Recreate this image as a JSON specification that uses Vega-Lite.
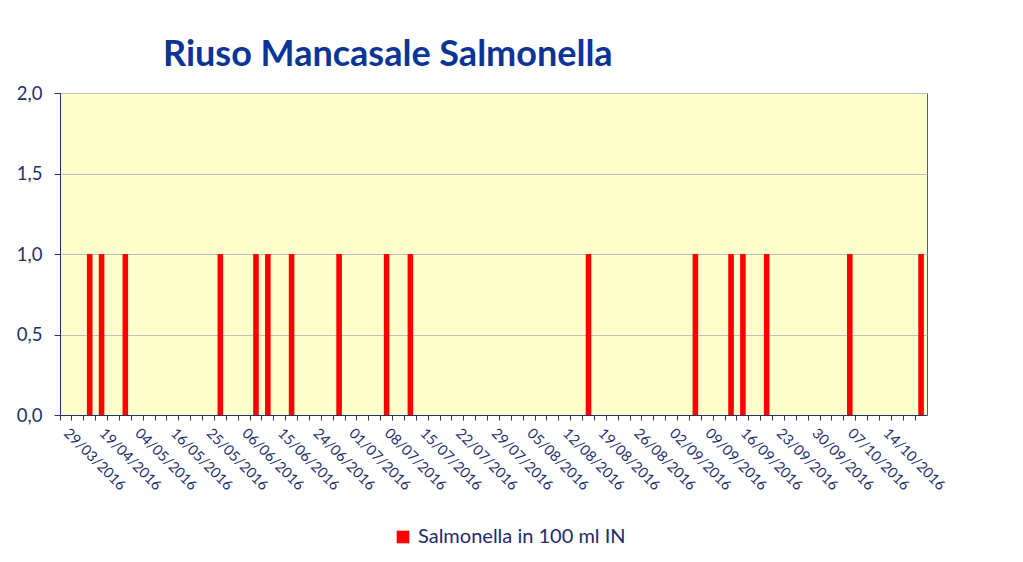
{
  "$schema": "https://vega.github.io/schema/vega-lite/v6.json",
  "width": 867,
  "height": 322,
  "autosize": {"type": "none"},
  "padding": {"left": 60, "top": 93, "right": 96, "bottom": 147},
  "background": "white",
  "title": {
    "text": "Riuso Mancasale Salmonella",
    "anchor": "start",
    "frame": "group",
    "dx": 103,
    "offset": 10,
    "font": "Lato",
    "fontSize": 36,
    "fontWeight": "bold",
    "color": "#0B3497"
  },
  "data": {
    "values": [
      {"data": "29/03/2016", "valore": 0},
      {"data": "05/04/2016", "valore": 0},
      {"data": "12/04/2016", "valore": 1},
      {"data": "19/04/2016", "valore": 1},
      {"data": "26/04/2016", "valore": 0},
      {"data": "28/04/2016", "valore": 1},
      {"data": "04/05/2016", "valore": 0},
      {"data": "09/05/2016", "valore": 0},
      {"data": "12/05/2016", "valore": 0},
      {"data": "16/05/2016", "valore": 0},
      {"data": "19/05/2016", "valore": 0},
      {"data": "23/05/2016", "valore": 0},
      {"data": "25/05/2016", "valore": 0},
      {"data": "27/05/2016", "valore": 1},
      {"data": "31/05/2016", "valore": 0},
      {"data": "06/06/2016", "valore": 0},
      {"data": "08/06/2016", "valore": 1},
      {"data": "13/06/2016", "valore": 1},
      {"data": "15/06/2016", "valore": 0},
      {"data": "20/06/2016", "valore": 1},
      {"data": "22/06/2016", "valore": 0},
      {"data": "24/06/2016", "valore": 0},
      {"data": "27/06/2016", "valore": 0},
      {"data": "29/06/2016", "valore": 1},
      {"data": "01/07/2016", "valore": 0},
      {"data": "04/07/2016", "valore": 0},
      {"data": "06/07/2016", "valore": 0},
      {"data": "08/07/2016", "valore": 1},
      {"data": "11/07/2016", "valore": 0},
      {"data": "13/07/2016", "valore": 1},
      {"data": "15/07/2016", "valore": 0},
      {"data": "18/07/2016", "valore": 0},
      {"data": "20/07/2016", "valore": 0},
      {"data": "22/07/2016", "valore": 0},
      {"data": "25/07/2016", "valore": 0},
      {"data": "27/07/2016", "valore": 0},
      {"data": "29/07/2016", "valore": 0},
      {"data": "01/08/2016", "valore": 0},
      {"data": "03/08/2016", "valore": 0},
      {"data": "05/08/2016", "valore": 0},
      {"data": "08/08/2016", "valore": 0},
      {"data": "10/08/2016", "valore": 0},
      {"data": "12/08/2016", "valore": 0},
      {"data": "16/08/2016", "valore": 0},
      {"data": "17/08/2016", "valore": 1},
      {"data": "19/08/2016", "valore": 0},
      {"data": "22/08/2016", "valore": 0},
      {"data": "24/08/2016", "valore": 0},
      {"data": "26/08/2016", "valore": 0},
      {"data": "29/08/2016", "valore": 0},
      {"data": "31/08/2016", "valore": 0},
      {"data": "02/09/2016", "valore": 0},
      {"data": "05/09/2016", "valore": 0},
      {"data": "07/09/2016", "valore": 1},
      {"data": "09/09/2016", "valore": 0},
      {"data": "12/09/2016", "valore": 0},
      {"data": "14/09/2016", "valore": 1},
      {"data": "16/09/2016", "valore": 1},
      {"data": "19/09/2016", "valore": 0},
      {"data": "21/09/2016", "valore": 1},
      {"data": "23/09/2016", "valore": 0},
      {"data": "26/09/2016", "valore": 0},
      {"data": "28/09/2016", "valore": 0},
      {"data": "30/09/2016", "valore": 0},
      {"data": "03/10/2016", "valore": 0},
      {"data": "05/10/2016", "valore": 0},
      {"data": "07/10/2016", "valore": 1},
      {"data": "10/10/2016", "valore": 0},
      {"data": "12/10/2016", "valore": 0},
      {"data": "14/10/2016", "valore": 0},
      {"data": "17/10/2016", "valore": 0},
      {"data": "19/10/2016", "valore": 0},
      {"data": "21/10/2016", "valore": 1}
    ]
  },
  "mark": {"type": "bar", "width": {"band": 0.47}},
  "encoding": {
    "x": {
      "field": "data",
      "type": "ordinal",
      "sort": null,
      "scale": {"paddingInner": 0, "paddingOuter": 0},
      "axis": {
        "title": null,
        "bandPosition": 0,
        "domainColor": "#243466",
        "tickColor": "#243466",
        "tickSize": 5,
        "labelAngle": 45,
        "labelAlign": "left",
        "labelBaseline": "middle",
        "labelOffset": 0,
        "labelPadding": 11,
        "labelFont": "Lato",
        "labelFontSize": 14.5,
        "labelColor": "#1F2F6E",
        "labelOverlap": false,
        "labelBound": false,
        "labelExpr": "(round(datum.index * 72) % 3 == 0 && round(datum.index * 72) < 72) ? datum.label : ''"
      }
    },
    "y": {
      "field": "valore",
      "type": "quantitative",
      "scale": {"domain": [0, 2]},
      "axis": {
        "title": null,
        "values": [0, 0.5, 1, 1.5, 2],
        "grid": true,
        "gridColor": "#BFBFBF",
        "domainColor": "#243466",
        "tickColor": "#243466",
        "tickSize": 6,
        "labelPadding": 12,
        "labelFont": "Lato",
        "labelFontSize": 18.5,
        "labelColor": "#1F2F6E",
        "labelExpr": "replace(format(datum.value, '.1f'), '.', ',')"
      }
    },
    "color": {
      "datum": "Salmonella in 100 ml IN",
      "type": "nominal",
      "scale": {"range": ["#FF0000"]},
      "legend": {
        "title": null,
        "orient": "none",
        "legendX": 333,
        "legendY": 434,
        "symbolType": "square",
        "symbolSize": 160,
        "symbolStrokeWidth": 0,
        "labelFont": "Lato",
        "labelFontSize": 20,
        "labelLimit": 0,
        "labelColor": "#1F2A6E",
        "labelOffset": 5
      }
    }
  },
  "config": {
    "view": {"fill": "#FFFFCC", "stroke": "#4F5B80"}
  }
}
